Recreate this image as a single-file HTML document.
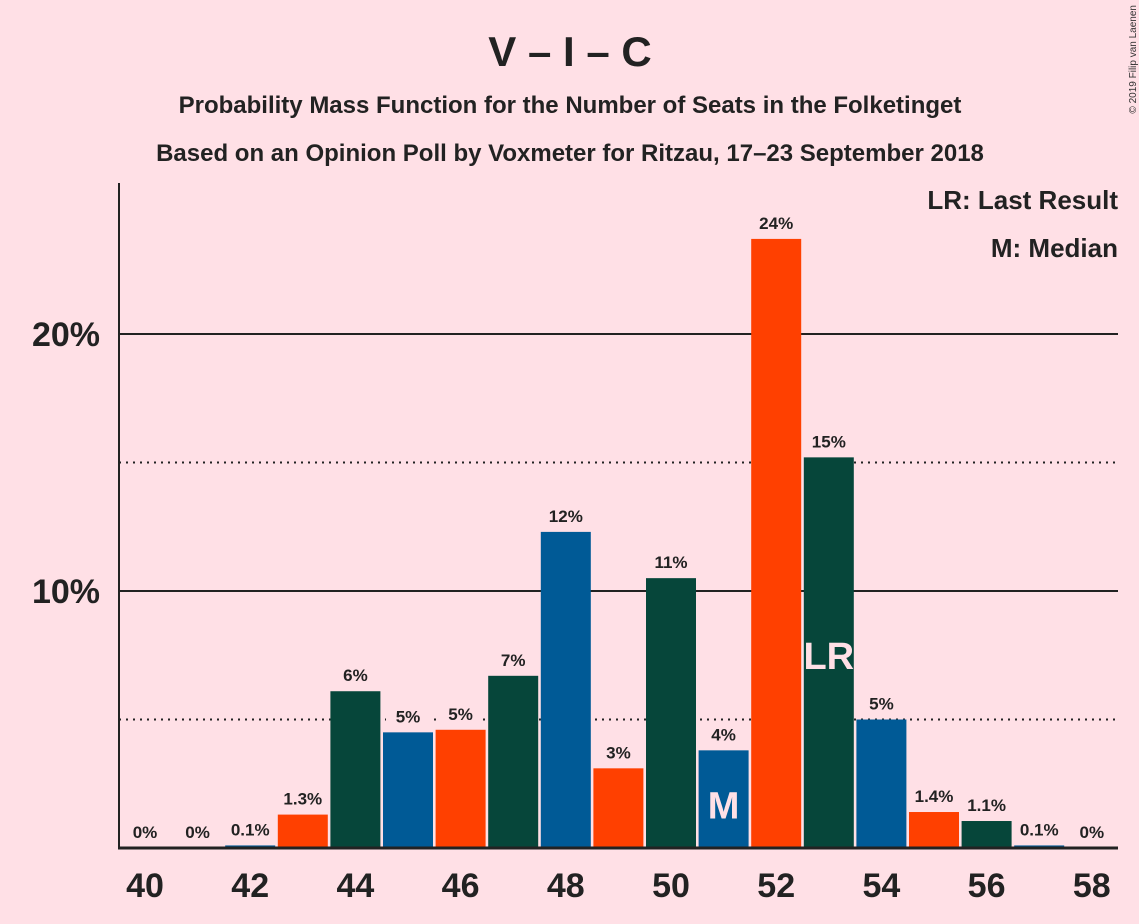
<!DOCTYPE html>
<html><head><meta charset="utf-8"><style>
body{margin:0;background:#ffe0e6;}
svg{display:block;font-family:"Liberation Sans",sans-serif;}
</style></head><body>
<svg id="chart" width="1139" height="924">
<rect width="1139" height="924" fill="#ffe0e6"/>
<text x="570" y="66" text-anchor="middle" font-size="42" font-weight="bold" fill="#222">V – I – C</text>
<text x="570" y="113" text-anchor="middle" font-size="24" font-weight="bold" fill="#222">Probability Mass Function for the Number of Seats in the Folketinget</text>
<text x="570" y="161" text-anchor="middle" font-size="24" font-weight="bold" fill="#222">Based on an Opinion Poll by Voxmeter for Ritzau, 17–23 September 2018</text>
<text x="1136" y="5" font-size="10" fill="#333" transform="rotate(-90 1136 5)" text-anchor="end">© 2019 Filip van Laenen</text>
<text x="1118" y="209" text-anchor="end" font-size="26" font-weight="bold" fill="#222">LR: Last Result</text>
<text x="1118" y="257" text-anchor="end" font-size="26" font-weight="bold" fill="#222">M: Median</text>
<g id="grid"></g><g id="bars"></g>
</svg>
<script>
const seats=[40,41,42,43,44,45,46,47,48,49,50,51,52,53,54,55,56,57,58];
const probs=[0,0,0.1,1.3,6.1,4.5,4.6,6.7,12.3,3.1,10.5,3.8,23.7,15.2,5.0,1.4,1.05,0.1,0];
const labels=["0%","0%","0.1%","1.3%","6%","5%","5%","7%","12%","3%","11%","4%","24%","15%","5%","1.4%","1.1%","0.1%","0%"];
const xTicks=[40,42,44,46,48,50,52,54,56,58];
const yTicks=[10,20];
const yDotted=[5,15];
const medianSeat=51, lastResultSeat=53;
const colors=["#005a96","#ff4000","#06463a"];
const NS="http://www.w3.org/2000/svg";
const x=s=>145+(s-40)*52.6;
const y=v=>848-v*25.7;
function mk(t,a,p){const e=document.createElementNS(NS,t);for(const k in a)e.setAttribute(k,a[k]);p.appendChild(e);return e;}
const svg=document.getElementById('chart'),grid=document.getElementById('grid'),bars=document.getElementById('bars');
yDotted.forEach(v=>{const l=mk('line',{x1:119,x2:1118,y1:y(v),y2:y(v),stroke:'#222','stroke-width':2,'stroke-dasharray':'2,5'},grid);

});
yTicks.forEach(v=>{const l=mk('line',{x1:119,x2:1118,y1:y(v),y2:y(v),stroke:'#222','stroke-width':2},grid);


const t=mk('text',{x:100,y:y(v)+12,'text-anchor':'end','font-size':34,'font-weight':'bold',fill:'#222'},grid);t.textContent=v+'%';

});
seats.forEach((s,i)=>{
 const c=colors[((s-42)%3+3)%3];const v=probs[i];
 if(v>0){const r=mk('rect',{x:x(s)-25,y:y(v),width:50,height:848-y(v),fill:c},bars);
 
 }
 const ty=y(v)-10;
 const bg=mk('rect',{x:x(s)-22,y:ty-16,width:44,height:20,fill:'#ffe0e6'},bars);
 
 
 const t=mk('text',{x:x(s),y:ty,'text-anchor':'middle','font-size':17,'font-weight':'bold',fill:'#222'},bars);t.textContent=labels[i];
 
 
 if(s===medianSeat){const m=mk('text',{x:x(s),y:y(v)+(848-y(v))*0.7,'text-anchor':'middle','font-size':38,'font-weight':'bold',fill:'#ffe0e6'},bars);m.textContent='M';
 
 }
 if(s===lastResultSeat){const m=mk('text',{x:x(s),y:669,'text-anchor':'middle','font-size':38,'font-weight':'bold',fill:'#ffe0e6'},bars);m.textContent='LR';
 
 }
});
xTicks.forEach(s=>{const t=mk('text',{x:x(s),y:897,'text-anchor':'middle','font-size':34,'font-weight':'bold',fill:'#222'},svg);t.textContent=s;

});
const ax=mk('line',{x1:119,x2:119,y1:183,y2:849,stroke:'#222','stroke-width':2},svg);


const bx=mk('line',{x1:118,x2:1118,y1:848,y2:848,stroke:'#222','stroke-width':3},svg);


</script>
</body></html>
